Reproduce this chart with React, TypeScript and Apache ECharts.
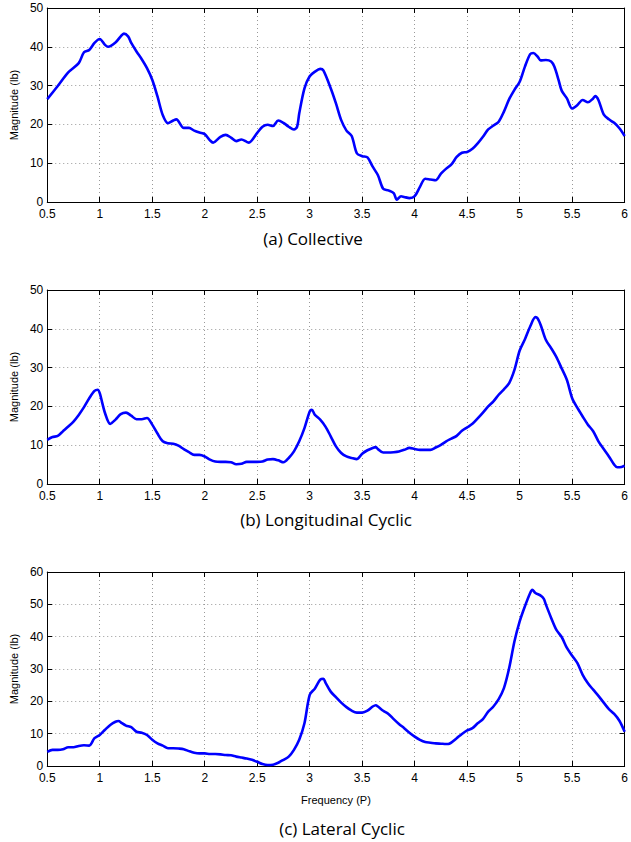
import React, { useEffect, useRef } from "react";
import * as echarts from "echarts";

const xTicks = { min: 0.5, max: 6, interval: 0.5 };
const yMax = [50, 50, 60];
const captions = ["(a) Collective", "(b) Longitudinal Cyclic", "(c) Lateral Cyclic"];
const yAxisName = "Magnitude (lb)";
const xAxisName = "Frequency (P)";

const collective: number[][] = [
  [0.5, 26.5], [0.6, 29.9], [0.7, 33.4], [0.8, 35.8], [0.85, 38.6], [0.9, 39.2], [0.95, 41], [1.0, 42],
  [1.05, 40.5], [1.08, 40], [1.15, 41.1], [1.2, 42.7], [1.23, 43.4], [1.27, 42.7], [1.3, 41], [1.35, 38.8],
  [1.4, 36.8], [1.45, 34.5], [1.5, 31.5], [1.55, 27.2], [1.6, 22.4], [1.65, 20.3], [1.7, 21], [1.73, 21.3],
  [1.8, 19.1], [1.85, 19.1], [1.9, 18.4], [1.95, 17.9], [2.0, 17.5], [2.05, 15.9], [2.08, 15.3], [2.15, 16.8],
  [2.2, 17.3], [2.25, 16.6], [2.3, 15.7], [2.35, 16.1], [2.4, 15.5], [2.42, 15.3], [2.5, 17.8], [2.55, 19.4],
  [2.6, 19.9], [2.65, 19.6], [2.7, 21], [2.75, 20.4], [2.8, 19.4], [2.85, 18.7], [2.88, 19.4], [2.9, 22.8],
  [2.95, 29.3], [3.0, 32.4], [3.05, 33.6], [3.1, 34.3], [3.13, 33.9], [3.2, 29.3], [3.25, 25.4], [3.3, 21.1],
  [3.35, 18.4], [3.4, 17], [3.45, 12.5], [3.5, 11.8], [3.55, 11.5], [3.6, 9.1], [3.65, 6.9], [3.7, 3.4],
  [3.75, 3], [3.8, 2.3], [3.83, 0.6], [3.87, 1.5], [3.9, 1.3], [3.95, 1], [4.0, 1.5], [4.05, 3.9],
  [4.1, 6], [4.15, 5.8], [4.2, 5.6], [4.25, 7.3], [4.3, 8.6], [4.35, 9.7], [4.4, 11.6], [4.45, 12.7],
  [4.5, 12.9], [4.55, 13.7], [4.6, 15.1], [4.65, 16.8], [4.7, 18.7], [4.75, 19.7], [4.8, 20.7], [4.85, 23.3],
  [4.9, 26.5], [4.95, 28.9], [5.0, 31], [5.05, 34.9], [5.1, 38.1], [5.13, 38.4], [5.17, 37.5], [5.2, 36.5],
  [5.25, 36.6], [5.3, 36.2], [5.33, 34.9], [5.37, 31.5], [5.4, 28.7], [5.45, 26.7], [5.5, 24.1], [5.55, 25],
  [5.6, 26.3], [5.65, 25.7], [5.7, 26.7], [5.72, 27.3], [5.75, 26.3], [5.8, 22.6], [5.85, 21.3], [5.9, 20.4],
  [5.95, 19], [6.0, 17],
];

const longitudinal: number[][] = [
  [0.5, 11.4], [0.55, 12.1], [0.6, 12.4], [0.65, 13.6], [0.7, 14.8], [0.75, 16.1], [0.8, 17.8], [0.85, 19.8],
  [0.9, 22.1], [0.95, 24], [0.98, 24.3], [1.0, 23.4], [1.05, 18.3], [1.1, 15.5], [1.15, 16.6], [1.2, 18],
  [1.25, 18.4], [1.3, 17.6], [1.35, 16.7], [1.4, 16.7], [1.45, 17], [1.5, 15.3], [1.55, 13], [1.6, 11],
  [1.65, 10.5], [1.7, 10.4], [1.75, 9.9], [1.8, 9], [1.85, 8.2], [1.9, 7.5], [1.95, 7.5], [2.0, 7.1],
  [2.05, 6.3], [2.1, 5.8], [2.15, 5.7], [2.2, 5.7], [2.25, 5.6], [2.3, 5.1], [2.35, 5.2], [2.4, 5.7],
  [2.45, 5.7], [2.5, 5.7], [2.55, 5.8], [2.6, 6.3], [2.65, 6.4], [2.7, 6.1], [2.75, 5.6], [2.8, 6.7],
  [2.85, 8.4], [2.9, 11], [2.95, 14.4], [3.0, 18.7], [3.02, 19.1], [3.05, 17.8], [3.1, 16.6], [3.15, 14.8],
  [3.2, 12.3], [3.25, 9.7], [3.3, 8], [3.35, 7.1], [3.4, 6.7], [3.45, 6.4], [3.5, 7.8], [3.55, 8.7],
  [3.6, 9.3], [3.63, 9.5], [3.65, 9], [3.7, 8.1], [3.75, 8.1], [3.8, 8.2], [3.85, 8.4], [3.9, 8.8],
  [3.95, 9.3], [4.0, 9], [4.05, 8.8], [4.1, 8.8], [4.15, 8.8], [4.2, 9.4], [4.25, 10.1], [4.3, 11],
  [4.35, 11.7], [4.4, 12.4], [4.45, 13.7], [4.5, 14.6], [4.55, 15.5], [4.6, 16.9], [4.65, 18.4], [4.7, 20],
  [4.75, 21.3], [4.8, 23], [4.85, 24.4], [4.9, 26], [4.95, 29.4], [5.0, 34.4], [5.05, 37.3], [5.1, 40.6],
  [5.15, 43], [5.17, 42.7], [5.2, 41], [5.25, 37.1], [5.3, 35], [5.35, 32.7], [5.4, 29.8], [5.45, 26.8],
  [5.5, 22.1], [5.55, 19.6], [5.6, 17.4], [5.65, 15.3], [5.7, 13.6], [5.75, 11], [5.8, 9], [5.85, 7.1],
  [5.9, 5], [5.93, 4.3], [5.97, 4.4], [6.0, 4.7],
];

const lateral: number[][] = [
  [0.5, 4.4], [0.55, 5], [0.6, 5], [0.65, 5.2], [0.7, 5.8], [0.75, 5.8], [0.8, 6.2], [0.85, 6.4],
  [0.9, 6.3], [0.95, 8.6], [1.0, 9.6], [1.05, 11.2], [1.1, 12.7], [1.15, 13.7], [1.18, 13.9], [1.2, 13.5],
  [1.25, 12.5], [1.3, 12], [1.35, 10.6], [1.4, 10.3], [1.45, 9.6], [1.5, 8.1], [1.55, 7], [1.6, 6.3],
  [1.65, 5.5], [1.7, 5.5], [1.75, 5.4], [1.8, 5.2], [1.85, 4.6], [1.9, 4.1], [1.95, 3.9], [2.0, 3.9],
  [2.05, 3.7], [2.1, 3.7], [2.15, 3.6], [2.2, 3.4], [2.25, 3.3], [2.3, 2.9], [2.35, 2.6], [2.4, 2.3],
  [2.45, 1.9], [2.5, 1.3], [2.55, 0.6], [2.6, 0.3], [2.65, 0.4], [2.7, 1], [2.75, 1.9], [2.8, 2.9],
  [2.85, 5], [2.9, 8.1], [2.95, 13.2], [3.0, 22], [3.05, 24], [3.1, 26.7], [3.13, 27], [3.15, 25.8],
  [3.2, 23], [3.25, 21.3], [3.3, 19.6], [3.35, 18.2], [3.4, 17.1], [3.45, 16.5], [3.5, 16.5], [3.55, 17.1],
  [3.6, 18.4], [3.63, 18.8], [3.65, 18.4], [3.7, 17.1], [3.75, 16.1], [3.8, 14.5], [3.85, 13], [3.9, 11.7],
  [3.95, 10.3], [4.0, 9.1], [4.05, 8.1], [4.1, 7.4], [4.15, 7.2], [4.2, 7], [4.25, 6.9], [4.3, 6.8],
  [4.33, 6.9], [4.4, 8.6], [4.45, 9.9], [4.5, 11], [4.55, 11.7], [4.6, 13.2], [4.65, 14.5], [4.7, 16.8],
  [4.75, 18.4], [4.8, 20.7], [4.85, 24.1], [4.9, 30.3], [4.95, 38.5], [5.0, 44.7], [5.05, 49.4], [5.1, 53.5],
  [5.12, 54.5], [5.15, 53.5], [5.2, 52.7], [5.23, 51.7], [5.25, 49.9], [5.3, 45.8], [5.35, 42.1], [5.4, 39.9],
  [5.45, 36.5], [5.5, 34.1], [5.55, 31.8], [5.6, 28.2], [5.65, 25.6], [5.7, 23.6], [5.75, 21.7], [5.8, 19.6],
  [5.85, 17.6], [5.9, 16.1], [5.95, 14], [6.0, 10.6],
];

const seriesData = [collective, longitudinal, lateral];

export default function App() {
  const ref = useRef<HTMLDivElement>(null);

  useEffect(() => {
    if (!ref.current) return;
    const chart = echarts.init(ref.current, undefined, { renderer: "svg" });
    const tops = [8, 290, 572];
    const gridH = 194;
    const labelFont = "Liberation Sans, Arial, sans-serif";
    const grid = tops.map((t) => ({ left: 45, top: t, width: 582, height: gridH }));
    const xAxis: any[] = [];
    const yAxis: any[] = [];
    tops.forEach((_, i) => {
      xAxis.push({
        type: "value",
        gridIndex: i,
        position: "bottom",
        ...xTicks,
        axisLine: { show: true, onZero: false, lineStyle: { color: "#000", width: 1 } },
        axisTick: { show: true, inside: true, length: 5, lineStyle: { color: "#000" } },
        axisLabel: {
          show: true,
          margin: 6,
          color: "#000",
          fontSize: 12,
          fontFamily: labelFont,
          formatter: (v: number) => String(v),
        },
        splitLine: { show: true, lineStyle: { color: "#999", type: [1, 3], width: 1 } },
        ...(i === 2
          ? {
              name: xAxisName,
              nameLocation: "middle",
              nameGap: 28,
              nameTextStyle: { color: "#000", fontSize: 11, fontFamily: labelFont },
            }
          : {}),
      });
      xAxis.push({
        type: "value",
        gridIndex: i,
        position: "top",
        ...xTicks,
        axisLine: { show: true, onZero: false, lineStyle: { color: "#000", width: 1 } },
        axisTick: { show: true, inside: true, length: 5, lineStyle: { color: "#000" } },
        axisLabel: { show: false },
        splitLine: { show: false },
      });
      yAxis.push({
        type: "value",
        gridIndex: i,
        position: "left",
        min: 0,
        max: yMax[i],
        interval: 10,
        name: yAxisName,
        nameLocation: "middle",
        nameGap: 23,
        nameTextStyle: { color: "#000", fontSize: 11, fontFamily: labelFont },
        axisLine: { show: true, onZero: false, lineStyle: { color: "#000", width: 1 } },
        axisTick: { show: true, inside: true, length: 5, lineStyle: { color: "#000" } },
        axisLabel: { show: true, margin: 4, color: "#000", fontSize: 12, fontFamily: labelFont },
        splitLine: { show: true, lineStyle: { color: "#999", type: [1, 3], width: 1 } },
      });
      yAxis.push({
        type: "value",
        gridIndex: i,
        position: "right",
        min: 0,
        max: yMax[i],
        interval: 10,
        axisLine: { show: true, onZero: false, lineStyle: { color: "#000", width: 1 } },
        axisTick: { show: true, inside: true, length: 5, lineStyle: { color: "#000" } },
        axisLabel: { show: false },
        splitLine: { show: false },
      });
    });

    const series = seriesData.map((d, i) => ({
      type: "line",
      xAxisIndex: i * 2,
      yAxisIndex: i * 2,
      data: d,
      smooth: 0.3,
      showSymbol: false,
      symbol: "none",
      lineStyle: { color: "#0000ff", width: 2.6 },
      z: 5,
    }));

    const capPos = [
      { x: 313, y: 238 },
      { x: 326, y: 519 },
      { x: 342, y: 828 },
    ];
    const graphic = captions.map((c, i) => ({
      type: "text",
      x: capPos[i].x,
      y: capPos[i].y,
      style: {
        text: c,
        fill: "#000",
        font: "17px 'Open Sans', sans-serif",
        textAlign: "center",
        textVerticalAlign: "middle",
      },
    }));

    chart.setOption({
      animation: false,
      backgroundColor: "#fff",
      grid,
      xAxis,
      yAxis,
      series,
      graphic,
    });
    return () => chart.dispose();
  }, []);

  return (
    <div
      ref={ref}
      style={{ position: "fixed", left: 0, top: 0, width: 631, height: 842, background: "#fff" }}
    />
  );
}
